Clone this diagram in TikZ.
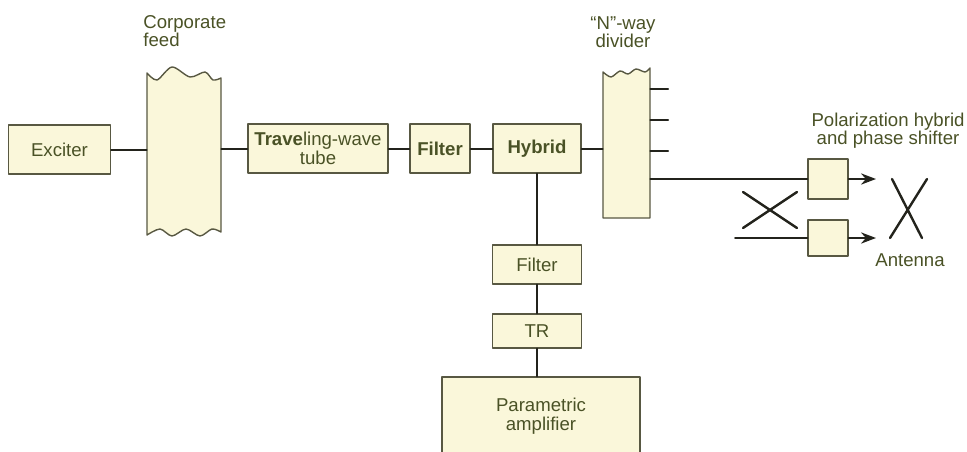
\documentclass[tikz,border=0pt]{standalone}
\usepackage{fontspec}
\setmainfont{Liberation Sans}
\usepackage{tikz}
\usetikzlibrary{arrows.meta}

\definecolor{boxfill}{RGB}{250,247,218}
\definecolor{txtgreen}{RGB}{74,82,38}
\definecolor{lineblk}{RGB}{35,35,28}
\definecolor{edgegray}{RGB}{88,88,66}

\begin{document}
\begin{tikzpicture}[x=0.5pt,y=-0.5pt,>=Stealth,line cap=round,line join=round,
  blk/.style={draw=edgegray,line width=0.7pt,fill=boxfill,inner sep=1pt,
    text=txtgreen,font=\fontsize{9.3}{9.6}\selectfont,align=center},
  lbl/.style={text=txtgreen,font=\fontsize{9.3}{9}\selectfont,inner sep=0pt},
  wire/.style={draw=lineblk,line width=1pt},
  outline/.style={draw=edgegray,line width=0.7pt,fill=boxfill}]
  \useasboundingbox (0,0) rectangle (967,451);

  % Corporate feed (wavy top and bottom)
  \path[outline] plot[smooth] coordinates {(147,73) (157,80) (172,67) (190,77) (205,72) (213,80) (221,78)}
    -- plot[smooth] coordinates {(221,232) (212,229) (200,236) (186,229) (172,236) (160,229) (147,235)} -- cycle;
  \node[minimum width=37pt,minimum height=76pt,inner sep=0pt] (feed) at (184,152) {};
  \node[lbl,anchor=west,align=left] (feedlbl) at (143,31) {Corporate\\feed};

  % "N"-way divider (wavy top only)
  \path[outline] plot[smooth] coordinates {(603,72) (611,77) (620,71) (628,74) (636,69) (645,72) (650,68)}
    -- (650,218) -- (603,218) -- cycle;
  \node[minimum width=23.5pt,minimum height=73pt,inner sep=0pt] (divider) at (626.5,145) {};
  \node[lbl,align=center] (divlbl) at (623,32) {“N”-way\\divider};

  % Blocks of the main chain
  \node[blk,minimum width=51pt,minimum height=24.5pt] (exciter) at (59.5,149.5) {Exciter};
  \node[blk,minimum width=70pt,minimum height=24.5pt] (twt) at (318,148.5) {\textbf{Trave}ling-wave\\tube};
  \node[blk,minimum width=30pt,minimum height=24.5pt] (filter) at (440,148.5) {\textbf{Filter}};
  \node[blk,minimum width=44pt,minimum height=24.5pt] (hybrid) at (537,148.5) {\textbf{Hybrid}};

  % Receive branch
  \node[blk,minimum width=44.5pt,minimum height=19.5pt] (filter2) at (537,264.5) {Filter};
  \node[blk,minimum width=44.5pt,minimum height=17pt] (tr) at (537,331) {TR};
  \node[blk,minimum width=99pt,minimum height=39pt] (amp) at (541,416) {Parametric\\amplifier};

  % Polarization hybrids
  \node[blk,minimum width=20pt,minimum height=20pt] (pol1) at (828,179) {};
  \node[blk,minimum width=20pt,minimum height=18pt] (pol2) at (828,238) {};
  \node[lbl,align=center] (pollbl) at (888,131) {Polarization hybrid\\and phase shifter};
  \node[lbl] (antlbl) at (910,260) {Antenna};

  % Free ends
  \coordinate (out1) at (876,179);
  \coordinate (out2) at (876,238);
  \coordinate (in2) at (735,238);
  \foreach \y [count=\i] in {89,120,151}
    \coordinate (stub\i) at (668,\y);

  % Connectors
  \draw[wire] (exciter.east) -- (exciter.east -| feed.west);
  \draw[wire] (twt.west -| feed.east) -- (twt.west);
  \draw[wire] (twt.east) -- (filter.west);
  \draw[wire] (filter.east) -- (hybrid.west);
  \draw[wire] (hybrid.east) -- (hybrid.east -| divider.west);
  \draw[wire] (hybrid.south) -- (filter2.north);
  \draw[wire] (filter2.south) -- (tr.north);
  \draw[wire] (tr.south) -- (tr.south |- amp.north);
  \foreach \i in {1,2,3}
    \draw[wire] (stub\i -| divider.east) -- (stub\i);
  \draw[wire] (pol1.west -| divider.east) -- (pol1.west);
  \draw[wire] (in2) -- (pol2.west);
  \draw[wire,->] (pol1.east) -- (out1);
  \draw[wire,->] (pol2.east) -- (out2);

  % Crossover and antenna symbols
  \draw[wire,line width=1.2pt] (743,192) -- (797,228) (743,228) -- (797,192);
  \draw[wire,line width=1.2pt] (892,179) -- (922,238) (927,179) -- (890,238);
\end{tikzpicture}
\end{document}
